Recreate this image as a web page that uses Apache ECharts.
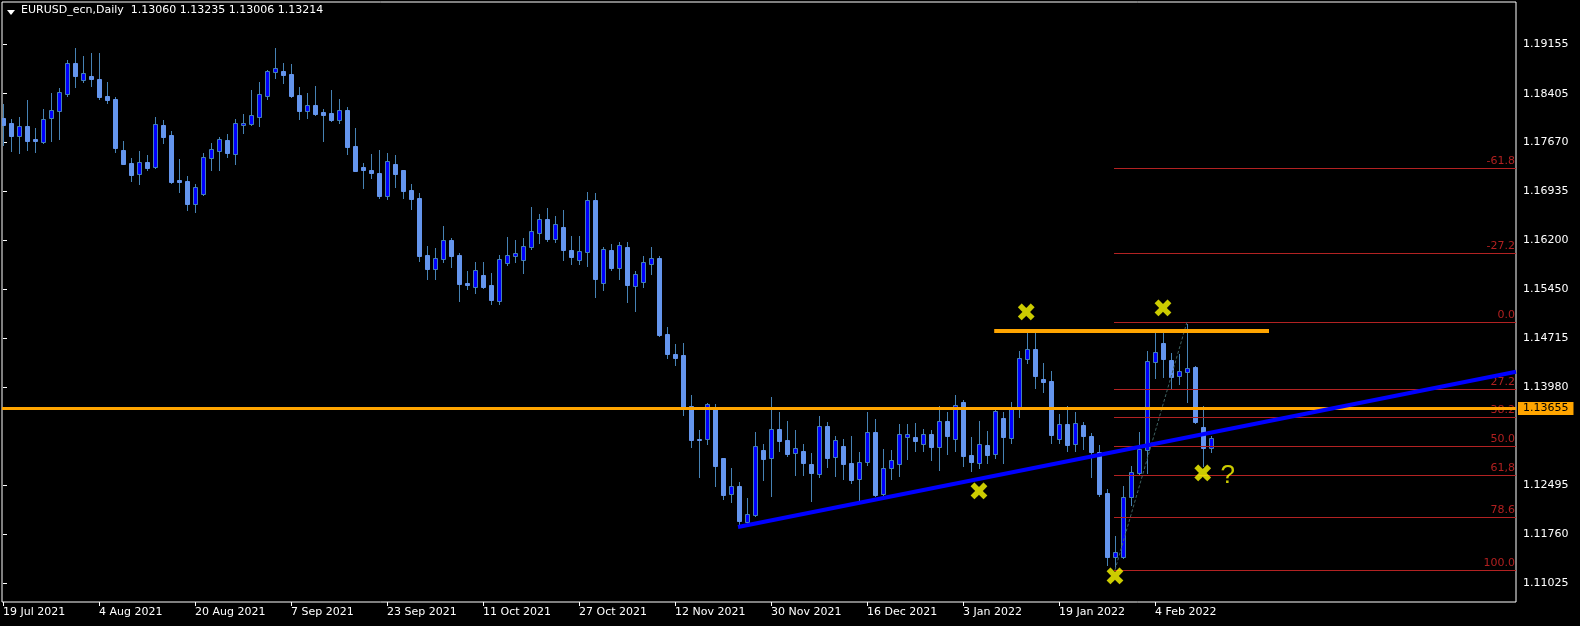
<!DOCTYPE html>
<html><head><meta charset="utf-8">
<script src="https://cdn.jsdelivr.net/npm/echarts@6/dist/echarts.min.js"></script>
<style>html,body{margin:0;padding:0;background:#000;overflow:hidden}#c{width:1580px;height:626px}</style>
</head><body><div id="c"></div><script>
// ---------- data ----------
const symbolName = 'EURUSD_ecn,Daily';
const lastBar = ['1.13060', '1.13235', '1.13006', '1.13214']; // O H L C of last bar
const dateTickIndex = [0, 12, 24, 36, 48, 60, 72, 84, 96, 108, 120, 132, 144];
const dateTickLabels = ['19 Jul 2021', '4 Aug 2021', '20 Aug 2021', '7 Sep 2021', '23 Sep 2021', '11 Oct 2021',
  '27 Oct 2021', '12 Nov 2021', '30 Nov 2021', '16 Dec 2021', '3 Jan 2022', '19 Jan 2022', '4 Feb 2022'];
const priceTicks = [1.19155, 1.18405, 1.17670, 1.16935, 1.16200, 1.15450, 1.14715, 1.13980, 1.12495, 1.11760, 1.11025];
// open, close, low, high
const candles = [
[1.1804,1.1793,1.1763,1.1825],[1.1796,1.1777,1.1754,1.1802],[1.1777,1.1792,1.1751,1.1805],[1.1792,1.1769,1.1756,1.1831],
[1.1772,1.1769,1.1753,1.1789],[1.1768,1.1802,1.1766,1.1818],[1.1804,1.1816,1.1769,1.1842],[1.1815,1.1843,1.1772,1.1849],
[1.1840,1.1887,1.1837,1.1891],[1.1887,1.1867,1.1851,1.1910],[1.1861,1.1872,1.1858,1.1897],[1.1867,1.1863,1.1852,1.1902],
[1.1863,1.1836,1.1833,1.1902],[1.1837,1.1831,1.1827,1.1858],[1.1833,1.1759,1.1753,1.1836],[1.1756,1.1735,1.1735,1.1769],
[1.1736,1.1718,1.1709,1.1744],[1.1719,1.1738,1.1704,1.1754],[1.1738,1.1729,1.1726,1.1748],[1.1730,1.1795,1.1729,1.1805],
[1.1793,1.1775,1.1766,1.1801],[1.1778,1.1707,1.1706,1.1784],[1.1710,1.1707,1.1692,1.1742],[1.1709,1.1674,1.1665,1.1716],
[1.1674,1.1700,1.1662,1.1704],[1.1689,1.1745,1.1688,1.1751],[1.1744,1.1757,1.1726,1.1766],[1.1754,1.1772,1.1726,1.1775],
[1.1771,1.1751,1.1745,1.1780],[1.1750,1.1796,1.1735,1.1802],[1.1793,1.1796,1.1781,1.1810],[1.1795,1.1809,1.1793,1.1846],
[1.1805,1.1840,1.1792,1.1858],[1.1837,1.1875,1.1833,1.1876],[1.1873,1.1879,1.1864,1.1910],[1.1875,1.1869,1.1857,1.1887],
[1.1870,1.1837,1.1836,1.1885],[1.1839,1.1815,1.1802,1.1851],[1.1815,1.1824,1.1804,1.1842],[1.1824,1.1810,1.1809,1.1852],
[1.1813,1.1809,1.1769,1.1818],[1.1812,1.1801,1.1799,1.1846],[1.1801,1.1816,1.1796,1.1833],[1.1816,1.1760,1.1750,1.1821],
[1.1762,1.1724,1.1724,1.1789],[1.1730,1.1726,1.1698,1.1736],[1.1726,1.1721,1.1713,1.1750],[1.1721,1.1686,1.1683,1.1756],
[1.1686,1.1739,1.1682,1.1751],[1.1735,1.1719,1.1700,1.1748],[1.1726,1.1694,1.1683,1.1726],[1.1695,1.1682,1.1667,1.1704],
[1.1683,1.1596,1.1588,1.1691],[1.1597,1.1576,1.1561,1.1611],[1.1576,1.1593,1.1561,1.1608],[1.1591,1.1620,1.1587,1.1641],
[1.1620,1.1596,1.1579,1.1623],[1.1597,1.1554,1.1528,1.1600],[1.1555,1.1552,1.1546,1.1573],[1.1549,1.1575,1.1540,1.1587],
[1.1567,1.1549,1.1547,1.1587],[1.1552,1.1529,1.1523,1.1570],[1.1528,1.1591,1.1523,1.1597],[1.1585,1.1597,1.1582,1.1624],
[1.1596,1.1600,1.1587,1.1620],[1.1590,1.1611,1.1570,1.1623],[1.1609,1.1633,1.1606,1.1670],[1.1630,1.1652,1.1615,1.1659],
[1.1652,1.1621,1.1618,1.1668],[1.1621,1.1644,1.1617,1.1656],[1.1640,1.1605,1.1590,1.1665],[1.1605,1.1594,1.1584,1.1626],
[1.1590,1.1603,1.1584,1.1626],[1.1602,1.1680,1.1581,1.1692],[1.1680,1.1561,1.1534,1.1691],[1.1555,1.1606,1.1545,1.1609],
[1.1605,1.1578,1.1575,1.1614],[1.1578,1.1612,1.1561,1.1617],[1.1609,1.1552,1.1526,1.1617],[1.1551,1.1569,1.1513,1.1573],
[1.1557,1.1587,1.1549,1.1596],[1.1584,1.1593,1.1569,1.1609],[1.1593,1.1477,1.1475,1.1596],[1.1478,1.1448,1.1442,1.1489],
[1.1448,1.1442,1.1431,1.1463],[1.1447,1.1368,1.1356,1.1465],[1.1370,1.1318,1.1308,1.1386],[1.1320,1.1318,1.1262,1.1333],
[1.1320,1.1373,1.1312,1.1374],[1.1367,1.1279,1.1249,1.1373],[1.1291,1.1235,1.1229,1.1291],[1.1237,1.1249,1.1225,1.1276],
[1.1249,1.1196,1.1190,1.1255],[1.1195,1.1207,1.1193,1.1231],[1.1205,1.1309,1.1204,1.1330],[1.1303,1.1290,1.1258,1.1312],
[1.1291,1.1335,1.1234,1.1383],[1.1335,1.1317,1.1302,1.1361],[1.1318,1.1297,1.1294,1.1347],[1.1299,1.1306,1.1265,1.1333],
[1.1302,1.1284,1.1265,1.1312],[1.1282,1.1268,1.1226,1.1299],[1.1267,1.1339,1.1262,1.1354],[1.1339,1.1291,1.1278,1.1345],
[1.1293,1.1318,1.1264,1.1324],[1.1309,1.1282,1.1259,1.1320],[1.1284,1.1258,1.1253,1.1324],[1.1259,1.1285,1.1226,1.1300],
[1.1285,1.1330,1.1281,1.1361],[1.1330,1.1235,1.1234,1.1350],[1.1237,1.1276,1.1232,1.1305],[1.1276,1.1288,1.1259,1.1303],
[1.1282,1.1327,1.1264,1.1342],[1.1323,1.1327,1.1290,1.1342],[1.1323,1.1317,1.1302,1.1344],[1.1312,1.1327,1.1302,1.1335],
[1.1327,1.1308,1.1288,1.1333],[1.1308,1.1347,1.1273,1.1370],[1.1347,1.1324,1.1297,1.1361],[1.1320,1.1371,1.1302,1.1386],
[1.1376,1.1294,1.1279,1.1379],[1.1296,1.1285,1.1272,1.1323],[1.1284,1.1312,1.1276,1.1347],[1.1311,1.1296,1.1284,1.1332],
[1.1297,1.1362,1.1291,1.1364],[1.1352,1.1323,1.1284,1.1361],[1.1321,1.1365,1.1314,1.1376],[1.1367,1.1442,1.1353,1.1453],
[1.1441,1.1456,1.1434,1.1484],[1.1456,1.1415,1.1397,1.1484],[1.1410,1.1406,1.1391,1.1434],[1.1407,1.1326,1.1314,1.1422],
[1.1320,1.1342,1.1314,1.1358],[1.1342,1.1311,1.1302,1.1370],[1.1312,1.1344,1.1302,1.1361],[1.1341,1.1324,1.1305,1.1345],
[1.1324,1.1300,1.1262,1.1329],[1.1300,1.1237,1.1234,1.1311],[1.1238,1.1142,1.1130,1.1244],[1.1142,1.1149,1.1125,1.1173],
[1.1142,1.1232,1.1140,1.1249],[1.1232,1.1270,1.1220,1.1279],[1.1268,1.1305,1.1267,1.1330],[1.1303,1.1437,1.1268,1.1453],
[1.1436,1.1451,1.1412,1.1480],[1.1465,1.1441,1.1413,1.1480],[1.1439,1.1413,1.1397,1.1450],[1.1415,1.1422,1.1403,1.1448],
[1.1421,1.1427,1.1376,1.1493],[1.1428,1.1345,1.1344,1.1430],[1.1338,1.1306,1.1279,1.1370],[1.13060,1.13214,1.13006,1.13235]
];
const fibLevels = ['-61.8', '-27.2', '0.0', '27.2', '38.2', '50.0', '61,8', '78.6', '100.0'];
const fibPrices = [1.17285, 1.16003, 1.14962, 1.13952, 1.13530, 1.13092, 1.12655, 1.12021, 1.11222];
const fibStartIndex = 138.9;
const fibDiagonal = [[139, 1.11222], [148, 1.14962]];
const resistancePrice = 1.13655;
const shortResistance = [[123.9, 1.1483], [158.25, 1.1483]];
const trendline = [[91.875, 1.1187], [189.125, 1.1421]];
const crossMarks = [[127.9, 1.1507], [145, 1.1514], [122, 1.1238], [139, 1.1109], [149.96, 1.1264]];
const questionMark = [153.1, 1.1264];
const xMin = -0.125, xMax = 189.125, yMin = 1.10738, yMax = 1.19788;

// ---------- chart ----------
const FONT = 'DejaVu Sans';
const chart = echarts.init(document.getElementById('c'));

function renderCandle(params, api) {
  const i = api.value(0), o = api.value(1), c = api.value(2), l = api.value(3), h = api.value(4);
  const pO = api.coord([i, o]), pC = api.coord([i, c]), pL = api.coord([i, l]), pH = api.coord([i, h]);
  const px = Math.round(pO[0]);
  const cx = px + 0.5;
  const bull = c > o;
  const yTop = Math.round(Math.min(pO[1], pC[1])), yBot = Math.round(Math.max(pO[1], pC[1]));
  const children = [{
    type: 'line', shape: { x1: cx, y1: Math.round(pH[1]), x2: cx, y2: Math.round(pL[1]) + 1 },
    style: { stroke: '#4682B4', lineWidth: 1 }
  }];
  const left = px - 2;
  if (yBot - yTop < 1) {
    children.push({ type: 'line', shape: { x1: left, y1: yTop + 0.5, x2: left + 5, y2: yTop + 0.5 },
      style: { stroke: bull ? '#4682B4' : '#6495ED', lineWidth: 1 } });
  } else {
    children.push({ type: 'rect', shape: { x: left + 0.5, y: yTop + 0.5, width: 4, height: yBot - yTop },
      style: { fill: bull ? '#0000FF' : '#6495ED', stroke: bull ? '#4682B4' : '#6495ED', lineWidth: 1 } });
  }
  return { type: 'group', children };
}

function renderFib(params, api) {
  const x0 = api.value(0), p = api.value(1), k = api.value(2);
  const pt = api.coord([x0, p]);
  const right = params.coordSys.x + params.coordSys.width;
  const y = Math.round(pt[1]) + 0.5;
  return { type: 'group', children: [
    { type: 'line', shape: { x1: Math.round(pt[0]), y1: y, x2: right, y2: y }, style: { stroke: '#B22222', lineWidth: 1 } },
    { type: 'text', style: { text: fibLevels[k], x: right - 1, y: y - 1.5, align: 'right', verticalAlign: 'bottom',
      fill: '#B02020', font: '11px "DejaVu Sans"' } }
  ] };
}

const option = {
  backgroundColor: '#000',
  animation: false,
  grid: { left: 2, top: 2, right: 64, bottom: 24, show: true, borderColor: '#fff', borderWidth: 1, backgroundColor: 'transparent' },
  xAxis: {
    type: 'value', min: xMin, max: xMax,
    axisLine: { show: false },
    splitLine: { show: false },
    axisTick: { show: true, inside: false, length: 4, lineStyle: { color: '#fff' }, customValues: dateTickIndex },
    axisLabel: {
      customValues: dateTickIndex, color: '#fff', fontSize: 11, fontFamily: FONT, align: 'left', margin: 5,
      formatter: v => dateTickLabels[dateTickIndex.indexOf(Math.round(v))] || ''
    }
  },
  yAxis: {
    type: 'value', position: 'right', min: yMin, max: yMax, scale: true,
    axisLine: { show: false },
    splitLine: { show: false },
    axisTick: { show: true, inside: false, length: 4, lineStyle: { color: '#fff' }, customValues: priceTicks },
    axisLabel: { customValues: priceTicks, color: '#fff', fontSize: 11, fontFamily: FONT, margin: 7,
      formatter: v => v.toFixed(5) }
  },
  graphic: [
    { type: 'polygon', shape: { points: [[7, 10], [15, 10], [11, 15]] }, style: { fill: '#fff' } },
    { type: 'text', left: 21, top: 5, style: { text: symbolName + '  ' + lastBar.join(' '), fill: '#fff', font: '11px "DejaVu Sans"' } }
  ],
  series: [
    {
      type: 'custom', name: 'candles', renderItem: renderCandle, z: 2, clip: true,
      encode: { x: 0, y: [1, 2, 3, 4] },
      data: candles.map((d, i) => [i, d[0], d[1], d[2], d[3]])
    },
    {
      type: 'custom', name: 'fibo', renderItem: renderFib, z: 4, clip: false, silent: true,
      encode: { x: 0, y: 1 },
      data: fibPrices.map((p, k) => [fibStartIndex, p, k])
    },
    {
      type: 'line', name: 'overlays', data: [], z: 5, clip: false, silent: true,
      markLine: {
        silent: true, symbol: ['none', 'none'], animation: false,
        data: [
          [{ coord: fibDiagonal[0], lineStyle: { color: '#3E6262', width: 1, type: [3, 2] }, label: { show: false } },
           { coord: fibDiagonal[1] }],
          [{ coord: [xMin, resistancePrice], lineStyle: { color: '#FFA500', width: 3, type: 'solid' },
             label: { show: true, position: 'end', formatter: resistancePrice.toFixed(5), backgroundColor: '#FFA500',
               color: '#000', fontSize: 11, fontFamily: FONT, padding: [1, 5, 1, 5], distance: 2 } },
           { coord: [xMax, resistancePrice] }],
          [{ coord: shortResistance[0], lineStyle: { color: '#FFA500', width: 4, type: 'solid' }, label: { show: false } },
           { coord: shortResistance[1] }],
          [{ coord: trendline[0], lineStyle: { color: '#0000FF', width: 4, type: 'solid' }, label: { show: false } },
           { coord: trendline[1] }],
          [{ coord: [xMax - 0.5, Number(lastBar[3])], lineStyle: { opacity: 0, width: 0 },
             label: { show: true, position: 'end', formatter: lastBar[3], backgroundColor: '#fff',
               color: '#000', fontSize: 11, fontFamily: FONT, padding: [1, 5, 1, 5], distance: 2 } },
           { coord: [xMax, Number(lastBar[3])] }]
        ]
      }
    },
    {
      type: 'scatter', name: 'marks', z: 6, symbolSize: 0, silent: true,
      data: crossMarks.map(p => ({ value: p, label: { formatter: '\u2716' } }))
        .concat([{ value: questionMark, label: { formatter: '?', fontSize: 26, fontWeight: 'normal', fontFamily: 'Liberation Sans' } }]),
      label: { show: true, position: 'inside', color: '#FFFF00', fontSize: 25, fontFamily: FONT, fontWeight: 'bold' }
    }
  ]
};
chart.setOption(option);
</script></body></html>
